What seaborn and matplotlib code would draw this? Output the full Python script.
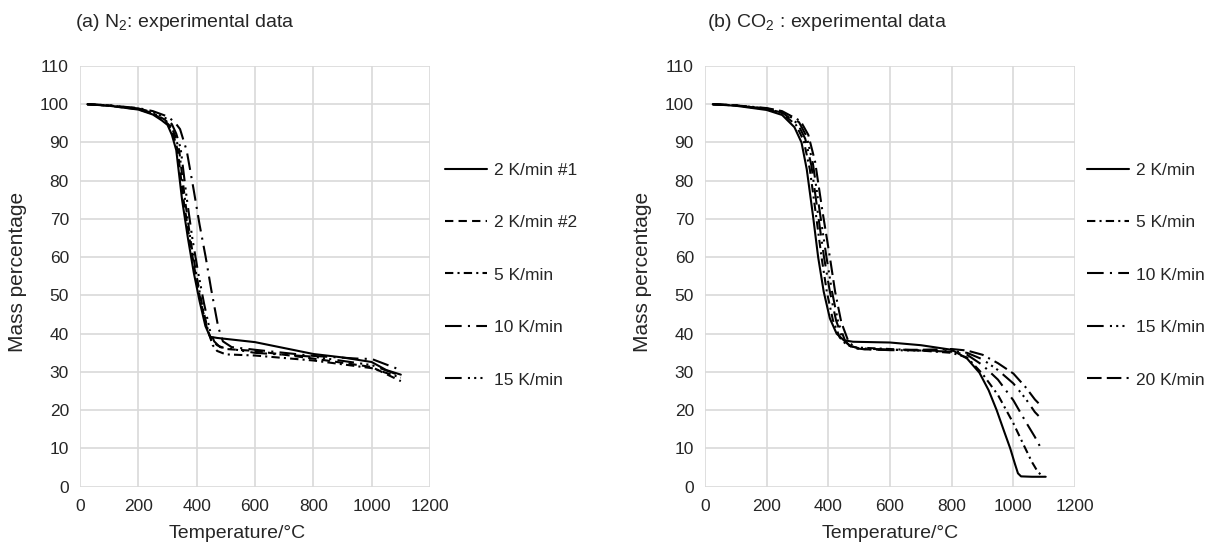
import pandas as pd
import matplotlib
matplotlib.use("Agg")
import matplotlib.pyplot as plt
import seaborn as sns

# ---- (a) N2 data: temperature (°C) and mass percentage
n2_t_2a = [25, 100, 200, 250, 280, 300, 315, 330, 350, 370, 390, 410, 430, 446, 470, 600, 800, 900, 1000, 1050, 1100]
n2_m_2a = [100, 99.6, 98.6, 97.3, 95.8, 94.6, 92, 88, 75, 65, 56, 48.5, 42, 39.2, 38.9, 37.8, 34.7, 33.8, 32.6, 30.5, 29.3]

n2_t_2b = [25, 100, 200, 250, 285, 305, 320, 335, 355, 375, 395, 415, 435, 450, 470, 500, 600, 800, 1000, 1100]
n2_m_2b = [100, 99.6, 98.7, 97.5, 96, 94.6, 92, 88, 75, 65, 56, 48, 41.5, 38.5, 37, 36, 35.5, 33.5, 31.3, 27.6]

n2_t_5 = [25, 100, 200, 250, 290, 310, 325, 340, 360, 380, 400, 420, 440, 455, 470, 500, 600, 800, 1000, 1100]
n2_m_5 = [100, 99.7, 98.8, 97.7, 96, 94.6, 92, 88, 75, 64, 55, 47, 40.5, 37, 35.5, 34.6, 34.3, 33, 31, 28.5]

n2_t_10 = [25, 100, 200, 250, 300, 325, 343, 366, 390, 410, 431, 450, 474, 490, 520, 600, 800, 950, 1000, 1100]
n2_m_10 = [100, 99.7, 99, 98.2, 96.8, 95.3, 93.5, 87.8, 77.5, 68.5, 60, 51.5, 41.7, 38, 36.5, 35.8, 34.2, 33.5, 33.4, 30.5]

n2_t_15 = [25, 100, 200, 250, 295, 315, 330, 345, 365, 385, 405, 425, 445, 460, 480, 600, 800, 1000, 1100]
n2_m_15 = [100, 99.7, 98.9, 97.9, 96.3, 94.8, 92.3, 88.5, 76, 65, 56, 48, 41, 38, 36.5, 35, 34, 31.8, 29]

# ---- (b) CO2 data
co2_t_2 = [25, 100, 200, 250, 290, 313, 330, 350, 367, 385, 405, 427, 450, 480, 600, 700, 800, 850, 890, 920, 946, 970, 990, 1005, 1015, 1025, 1060, 1105]
co2_m_2 = [100, 99.6, 98.5, 97.2, 94, 90, 83, 71, 60, 51, 44, 40, 38.3, 37.9, 37.7, 37, 35.8, 33.5, 29.8, 25.2, 20, 14.5, 10, 6, 3.5, 2.7, 2.6, 2.6]

co2_t_5 = [25, 100, 200, 250, 295, 320, 340, 360, 378, 395, 415, 437, 460, 490, 600, 700, 800, 850, 900, 950, 1000, 1030, 1060, 1080, 1092, 1100]
co2_m_5 = [100, 99.7, 98.7, 97.6, 94.6, 90.5, 83, 71, 60, 51, 43.5, 39, 37, 36.4, 36, 35.6, 35, 33.8, 29.5, 24, 16.6, 11.5, 6.5, 3.8, 3, 2.8]

co2_t_10 = [25, 100, 200, 250, 300, 325, 345, 366, 386, 405, 425, 447, 470, 500, 600, 700, 800, 850, 900, 950, 1000, 1040, 1070, 1090, 1095]
co2_m_10 = [100, 99.7, 98.8, 97.8, 95, 91, 84, 71.5, 60, 51, 43.5, 38.5, 36.8, 36.2, 35.8, 35.6, 35.3, 34.5, 31.8, 28, 22.6, 17, 13, 10, 9.6]

co2_t_15 = [25, 100, 200, 250, 305, 330, 350, 372, 394, 412, 432, 455, 478, 510, 600, 700, 800, 850, 900, 950, 1000, 1040, 1070, 1082]
co2_m_15 = [100, 99.7, 98.9, 98, 95.3, 91.5, 84.5, 72, 60, 51, 43, 38, 36.3, 36, 35.7, 35.6, 35.5, 35, 33.3, 30.5, 27, 23, 19.5, 18.5]

co2_t_20 = [25, 100, 200, 250, 310, 335, 357, 380, 405, 422, 442, 465, 488, 520, 600, 700, 800, 850, 900, 950, 1000, 1040, 1070, 1082]
co2_m_20 = [100, 99.7, 99, 98.2, 95.6, 92, 85, 72.5, 60, 51, 43, 38, 36.2, 35.9, 35.8, 35.8, 36, 35.6, 34.5, 32.3, 29.6, 26, 22.8, 21.8]

n2_labels = ["2 K/min #1", "2 K/min #2", "5 K/min", "10 K/min", "15 K/min"]
co2_labels = ["2 K/min", "5 K/min", "10 K/min", "15 K/min", "20 K/min"]

dash_solid = ""
dash_short = (4, 2.5)
dash_dot = (4, 2, 1, 2)
dash_long_dot = (8, 3, 1, 3)
dash_long_3dot = (8, 3, 1, 2, 1, 2, 1, 3)
dash_long_long_dot = (7, 2.5, 7, 2.5, 1, 2.5)


def long_form(ts, ms, labels):
    frames = []
    for t, m, lab in zip(ts, ms, labels):
        frames.append(pd.DataFrame({"T": t, "M": m, "series": lab}))
    return pd.concat(frames, ignore_index=True)


df_n2 = long_form([n2_t_2a, n2_t_2b, n2_t_5, n2_t_10, n2_t_15],
                  [n2_m_2a, n2_m_2b, n2_m_5, n2_m_10, n2_m_15], n2_labels)
df_co2 = long_form([co2_t_2, co2_t_5, co2_t_10, co2_t_15, co2_t_20],
                   [co2_m_2, co2_m_5, co2_m_10, co2_m_15, co2_m_20], co2_labels)

sns.set_theme(style="white")
plt.rcParams["font.family"] = ["Liberation Sans", "DejaVu Sans"]
plt.rcParams["mathtext.fontset"] = "custom"
plt.rcParams["mathtext.rm"] = "Liberation Sans"
plt.rcParams["mathtext.it"] = "Liberation Sans:italic"

fig = plt.figure(figsize=(12.06, 5.44), dpi=100)
ax1 = fig.add_axes([80 / 1206, 1 - 486.7 / 544, 350 / 1206, 420.7 / 544])
ax2 = fig.add_axes([705 / 1206, 1 - 486.7 / 544, 370 / 1206, 420.7 / 544])

# axes, data, labels, dashes, title, title x, legend x, xlabel centre x, ylabel x (pixels)
panels = [
    (ax1, df_n2, n2_labels, [dash_solid, dash_short, dash_dot, dash_long_dot, dash_long_3dot],
     r"(a) N$_2$: experimental data", 75, 445, 237, 18),
    (ax2, df_co2, co2_labels, [dash_solid, dash_dot, dash_long_dot, dash_long_3dot, dash_long_long_dot],
     r"(b) CO$_2$ : experimental data", 707, 1087, 890, 643),
]

for ax, df, labels, dashes, title, title_x, leg_x, xlab_x, ylab_x in panels:
    sns.lineplot(data=df, x="T", y="M", style="series", style_order=labels,
                 dashes=dict(zip(labels, dashes)), color="black", linewidth=1.5,
                 estimator=None, sort=False, ax=ax)
    ax.set_xlim(0, 1200)
    ax.set_ylim(0, 110)
    ax.set_xticks(range(0, 1201, 200))
    ax.set_yticks(range(0, 111, 10))
    ax.grid(True, color="#d9d9d9", linewidth=1.2)
    ax.set_axisbelow(True)
    for s in ax.spines.values():
        s.set_visible(False)
    ax.tick_params(axis="both", labelsize=12.5, length=0, colors="#262626")
    ax.tick_params(axis="x", pad=9)
    ax.tick_params(axis="y", pad=8)
    ax.set_xlabel("Temperature/°C", fontsize=14, color="#262626")
    ax.set_ylabel("Mass percentage", fontsize=15, color="#262626")
    pos = ax.get_position()
    ax.xaxis.set_label_coords((xlab_x / 1206 - pos.x0) / pos.width,
                              (1 - 533 / 544 - pos.y0) / pos.height)
    ax.xaxis.label.set_va("center")
    ax.yaxis.set_label_coords((ylab_x / 1206 - pos.x0) / pos.width,
                              (1 - 272 / 544 - pos.y0) / pos.height)
    ax.yaxis.label.set_va("center")
    fig.text(title_x / 1206, 1 - 27 / 544, title, fontsize=14, color="#262626",
             ha="left", va="baseline")
    handles, labs = ax.get_legend_handles_labels()
    ax.legend(handles, labs, loc="center left", bbox_to_anchor=(leg_x / 1206, 1 - 275 / 544),
              bbox_transform=fig.transFigure, frameon=False, fontsize=12.5,
              labelspacing=2.15, handlelength=2.4, handletextpad=0.45,
              borderpad=0, borderaxespad=0, labelcolor="#262626")

fig.savefig("out.png", dpi=100)
